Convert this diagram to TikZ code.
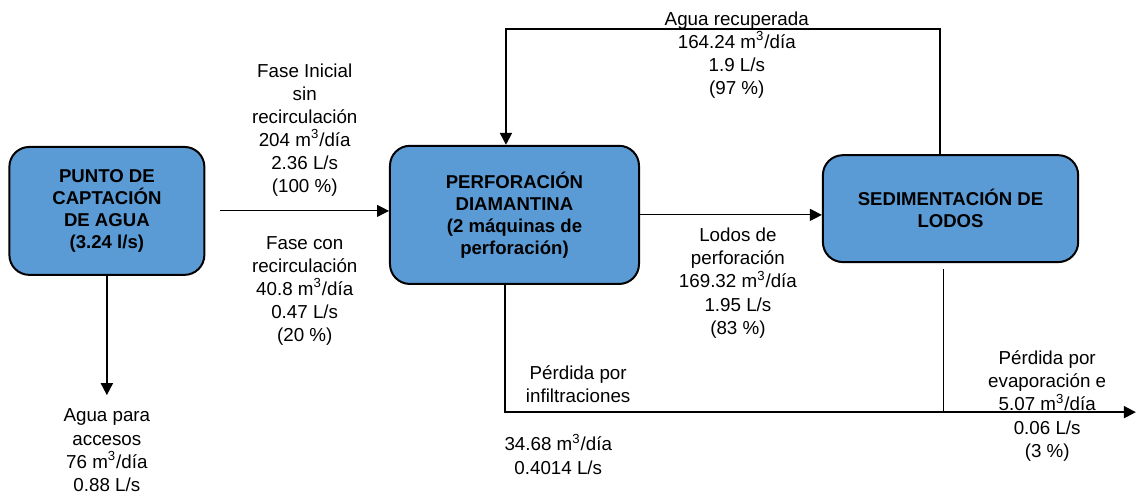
\documentclass[tikz,border=0pt]{standalone}
\usepackage{fontspec}
\setmainfont{Liberation Sans}
\usetikzlibrary{arrows.meta}
\definecolor{azul}{RGB}{91,155,213}
\tikzstyle{etapa} = [rectangle, rounded corners=0.35cm, draw=black, line width=1pt, fill=azul, align=center, inner sep=0pt, font=\fontsize{9.3}{11}\selectfont\bfseries]
\tikzstyle{dato} = [align=center, inner sep=0pt, font=\fontsize{9.4}{11.6}\selectfont]
\tikzstyle{flujo} = [draw, line width=1pt, -{Triangle[length=6pt,width=6pt]}]
\tikzstyle{fino} = [draw, line width=0.5pt, -{Triangle[length=6pt,width=6pt]}]

\begin{document}
\begin{tikzpicture}
      \useasboundingbox (0,0) rectangle (20,-8.725);

      \node (captacion) [etapa, minimum width=3.43cm, minimum height=2.25cm] at (1.88,-3.71) {PUNTO DE\\CAPTACIÓN\\DE AGUA\\(3.24 l/s)};
      \node (perforacion) [etapa, minimum width=4.38cm, minimum height=2.43cm] at (9.05,-3.78) {PERFORACIÓN\\DIAMANTINA\\(2 máquinas de\\perforación)};
      \node (sedimentacion) [etapa, minimum width=4.49cm, minimum height=1.88cm] at (16.72,-3.67) {SEDIMENTACIÓN DE\\LODOS};

      \coordinate (entrada) at (3.87,-3.71);
      \coordinate (rtop) at (16.53,-0.51);
      \coordinate (ltop) at (8.90,-0.51);
      \coordinate (accesos) at (1.88,-6.95);
      \coordinate (pcorner) at (8.88,-7.25);
      \coordinate (pfin) at (19.98,-7.25);
      \coordinate (guia) at (16.59,-4.73);

      \node (fase1) [dato] at (5.36,-2.29) {Fase Inicial\\sin\\recirculación\\204 m\textsuperscript{3}/día\\2.36 L/s\\(100 \%)};
      \node (fase2) [dato] at (5.36,-5.12) {Fase con\\recirculación\\40.8 m\textsuperscript{3}/día\\0.47 L/s\\(20 \%)};
      \node (recup) [dato] at (12.96,-0.97) {Agua recuperada\\164.24 m\textsuperscript{3}/día\\1.9 L/s\\(97 \%)};
      \node (lodos) [dato] at (12.98,-4.98) {Lodos de\\perforación\\169.32 m\textsuperscript{3}/día\\1.95 L/s\\(83 \%)};
      \node (infil) [dato] at (10.17,-6.76) {Pérdida por\\infiltraciones};
      \node (infval) [dato] at (9.82,-7.99) {34.68 m\textsuperscript{3}/día\\0.4014 L/s};
      \node (evap) [dato] at (18.42,-7.14) {Pérdida por\\evaporación e\\5.07 m\textsuperscript{3}/día\\0.06 L/s\\(3 \%)};
      \node (acc) [dato] at (1.88,-7.92) {Agua para\\accesos\\76 m\textsuperscript{3}/día\\0.88 L/s};

      \draw [fino] (entrada) -- (entrada -| perforacion.west);
      \draw [fino] (perforacion.east) -- (perforacion.east -| sedimentacion.west);
      \draw [flujo] (sedimentacion.north -| rtop) -- (rtop) -- (ltop) -- (ltop |- perforacion.north);
      \draw [flujo] (captacion.south) -- (accesos);
      \draw [flujo] (perforacion.south -| pcorner) -- (pcorner) -- (pfin);
      \draw [line width=0.5pt] (guia) -- (guia |- pcorner);
\end{tikzpicture}
\end{document}
